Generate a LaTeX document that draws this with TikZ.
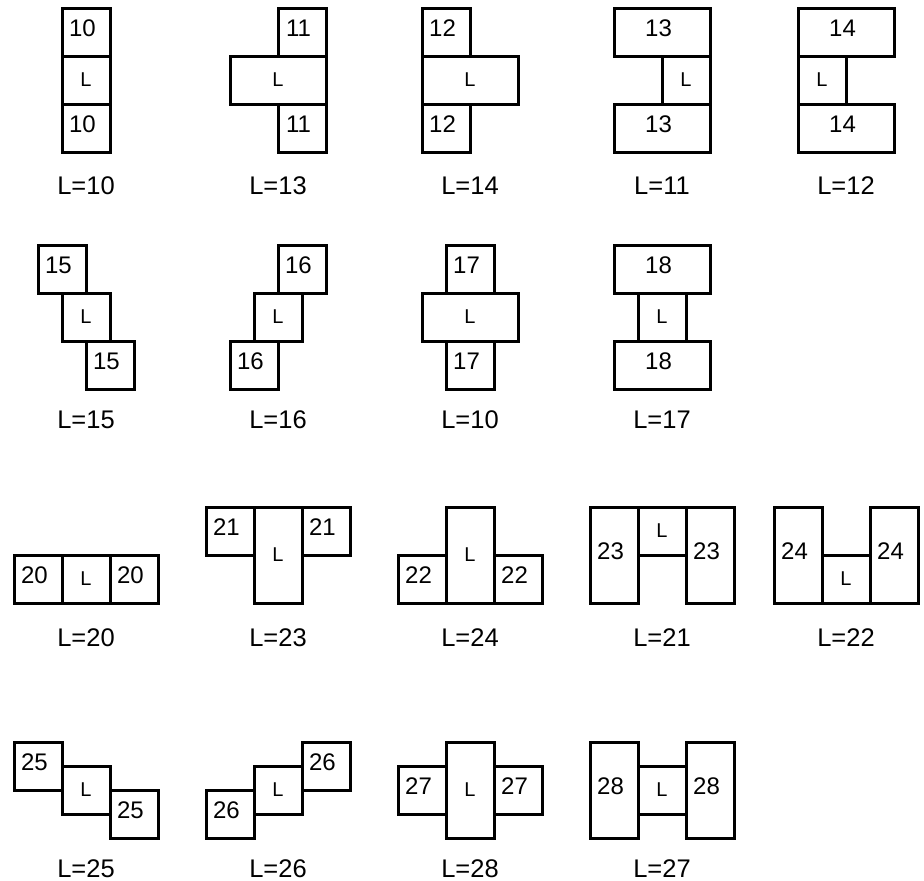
\documentclass[tikz,border=0pt]{standalone}
\usepackage{fontspec}
\setmainfont{Liberation Sans}
\newcommand{\Lmark}{{\fontsize{20}{24}\selectfont L}}
\begin{document}
\begin{tikzpicture}[x=1pt, y=-1pt,
    cell/.style={draw, line width=3pt, minimum width=48pt, minimum height=48pt, inner sep=0pt},
    wide/.style={cell, minimum width=96pt},
    tall/.style={cell, minimum height=96pt},
    num/.style={font=\fontsize{24}{28}\selectfont, inner sep=0pt, xshift=-3.5pt, yshift=3.5pt},
    nr/.style={label={[num]center:#1}},
    figlbl/.style={font=\fontsize{25.5}{30}\selectfont, inner sep=0pt}]
    \useasboundingbox (0,0) rectangle (924,881);
    % row 1
    \node[cell, nr=10] (A1) at (86,32) {};
    \node[cell] (A2) at (86,80) {\Lmark};
    \node[cell, nr=10] (A3) at (86,128) {};
    \node[figlbl] (A) at (86,185.5) {L=10};
    \node[cell, nr=11] (B1) at (302,32) {};
    \node[wide] (B2) at (278,80) {\Lmark};
    \node[cell, nr=11] (B3) at (302,128) {};
    \node[figlbl] (B) at (278,185.5) {L=13};
    \node[cell, nr=12] (C1) at (446,32) {};
    \node[wide] (C2) at (470,80) {\Lmark};
    \node[cell, nr=12] (C3) at (446,128) {};
    \node[figlbl] (C) at (470,185.5) {L=14};
    \node[wide, nr=13] (D1) at (662,32) {};
    \node[cell] (D2) at (686,80) {\Lmark};
    \node[wide, nr=13] (D3) at (662,128) {};
    \node[figlbl] (D) at (662,185.5) {L=11};
    \node[wide, nr=14] (E1) at (846,32) {};
    \node[cell] (E2) at (822,80) {\Lmark};
    \node[wide, nr=14] (E3) at (846,128) {};
    \node[figlbl] (E) at (846,185.5) {L=12};
    % row 2
    \node[cell, nr=15] (F1) at (62,269) {};
    \node[cell] (F2) at (86,317) {\Lmark};
    \node[cell, nr=15] (F3) at (110,365) {};
    \node[figlbl] (F) at (86,420) {L=15};
    \node[cell, nr=16] (G1) at (302,269) {};
    \node[cell] (G2) at (278,317) {\Lmark};
    \node[cell, nr=16] (G3) at (254,365) {};
    \node[figlbl] (G) at (278,420) {L=16};
    \node[cell, nr=17] (H1) at (470,269) {};
    \node[wide] (H2) at (470,317) {\Lmark};
    \node[cell, nr=17] (H3) at (470,365) {};
    \node[figlbl] (H) at (470,420) {L=10};
    \node[wide, nr=18] (I1) at (662,269) {};
    \node[cell] (I2) at (662,317) {\Lmark};
    \node[wide, nr=18] (I3) at (662,365) {};
    \node[figlbl] (I) at (662,420) {L=17};
    % row 3
    \node[cell, nr=20] (J1) at (38,579) {};
    \node[cell] (J2) at (86,579) {\Lmark};
    \node[cell, nr=20] (J3) at (134,579) {};
    \node[figlbl] (J) at (86,637.5) {L=20};
    \node[cell, nr=21] (K1) at (230,531) {};
    \node[tall] (K2) at (278,555) {\Lmark};
    \node[cell, nr=21] (K3) at (326,531) {};
    \node[figlbl] (K) at (278,637.5) {L=23};
    \node[cell, nr=22] (M1) at (422,579) {};
    \node[tall] (M2) at (470,555) {\Lmark};
    \node[cell, nr=22] (M3) at (518,579) {};
    \node[figlbl] (M) at (470,637.5) {L=24};
    \node[tall, nr=23] (N1) at (614,555) {};
    \node[cell] (N2) at (662,531) {\Lmark};
    \node[tall, nr=23] (N3) at (710,555) {};
    \node[figlbl] (N) at (662,637.5) {L=21};
    \node[tall, nr=24] (P1) at (798,555) {};
    \node[cell] (P2) at (846,579) {\Lmark};
    \node[tall, nr=24] (P3) at (894,555) {};
    \node[figlbl] (P) at (846,637.5) {L=22};
    % row 4
    \node[cell, nr=25] (Q1) at (38,766) {};
    \node[cell] (Q2) at (86,790) {\Lmark};
    \node[cell, nr=25] (Q3) at (134,814) {};
    \node[figlbl] (Q) at (86,868.5) {L=25};
    \node[cell, nr=26] (R1) at (230,814) {};
    \node[cell] (R2) at (278,790) {\Lmark};
    \node[cell, nr=26] (R3) at (326,766) {};
    \node[figlbl] (R) at (278,868.5) {L=26};
    \node[cell, nr=27] (S1) at (422,790) {};
    \node[tall] (S2) at (470,790) {\Lmark};
    \node[cell, nr=27] (S3) at (518,790) {};
    \node[figlbl] (S) at (470,868.5) {L=28};
    \node[tall, nr=28] (T1) at (614,790) {};
    \node[cell] (T2) at (662,790) {\Lmark};
    \node[tall, nr=28] (T3) at (710,790) {};
    \node[figlbl] (T) at (662,868.5) {L=27};
\end{tikzpicture}
\end{document}
